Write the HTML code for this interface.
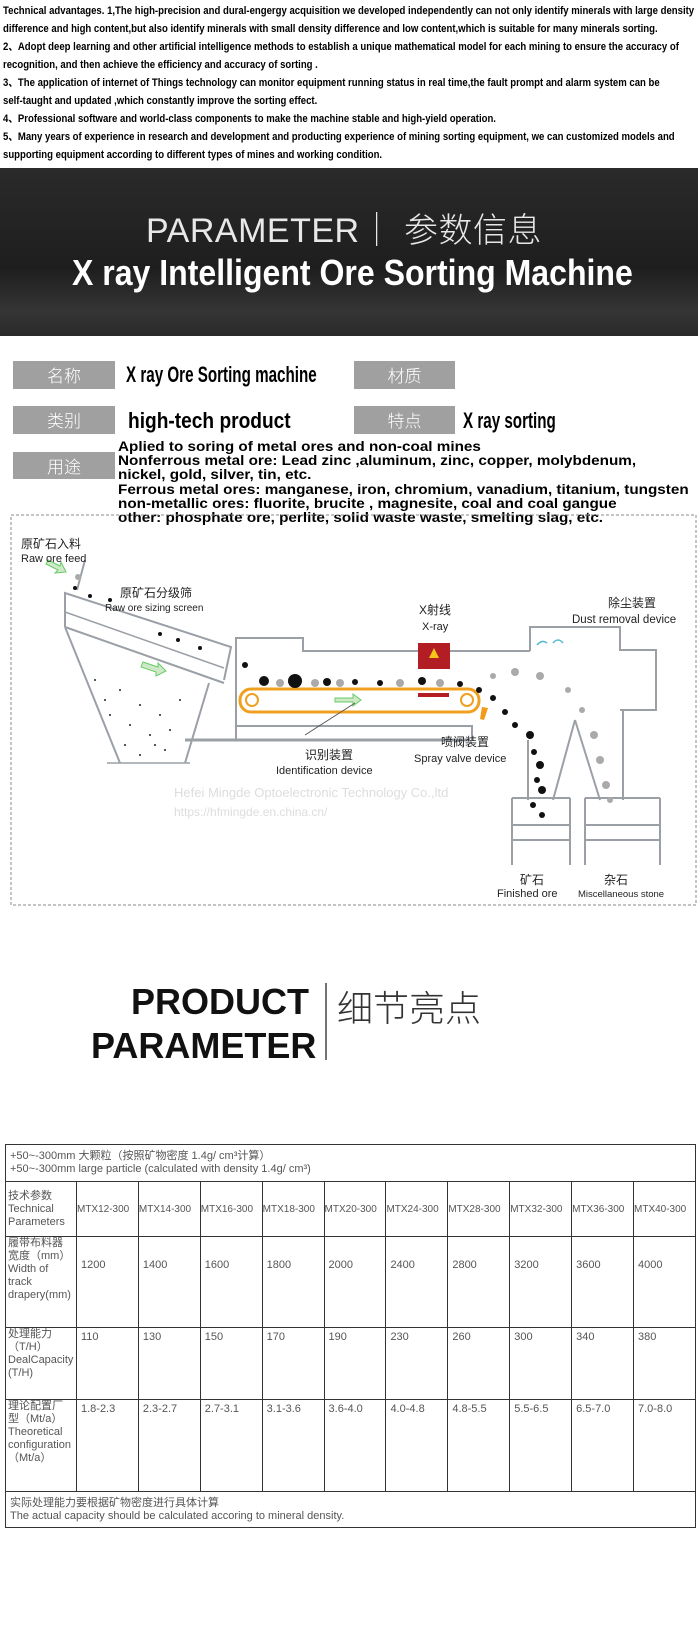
<!DOCTYPE html>
<html><head><meta charset="utf-8">
<style>
*{margin:0;padding:0;box-sizing:border-box}
body{width:698px;height:1641px;background:#fff;position:relative;overflow:hidden;font-family:"Liberation Sans","Noto Sans CJK SC",sans-serif;color:#000}
.abs{position:absolute;white-space:nowrap}
.tl{left:3px;font-size:11px;font-weight:bold;transform:scaleX(0.87);transform-origin:0 0;line-height:12px}
.lab{position:absolute;background:#a0a0a0;color:#fff;font-size:17px;text-align:center;font-family:"Noto Sans CJK SC",sans-serif;font-weight:300}
.cond{font-weight:bold;transform-origin:0 0}
table{border-collapse:collapse}
</style></head><body>
<div class="abs tl" style="top:5px">Technical advantages. 1,The high-precision and dural-engergy acquisition we developed independently can not only identify minerals with large density</div>
<div class="abs tl" style="top:23px">difference and high content,but also identify minerals with small density difference and low content,which is suitable for many minerals sorting.</div>
<div class="abs tl" style="top:41px">2、Adopt deep learning and other artificial intelligence methods to establish a unique mathematical model for each mining to ensure the accuracy of</div>
<div class="abs tl" style="top:59px">recognition, and then achieve the efficiency and accuracy of sorting .</div>
<div class="abs tl" style="top:77px">3、The application of internet of Things technology  can monitor equipment running status in real time,the fault prompt and alarm system can be</div>
<div class="abs tl" style="top:95px">self-taught and updated ,which constantly improve the sorting effect.</div>
<div class="abs tl" style="top:113px">4、Professional software and world-class components to make the machine stable and high-yield operation.</div>
<div class="abs tl" style="top:131px">5、Many years of experience in research and development and producting experience of mining sorting equipment, we can customized models and</div>
<div class="abs tl" style="top:149px">supporting equipment according to different types of mines and working condition.</div>

<div style="position:absolute;left:0;top:168px;width:698px;height:168px;background:linear-gradient(#2a2a2a,#1e1e1e 60%,#353535 85%,#2a2a2a)"></div>
<div class="abs" style="left:146px;top:203px;font-size:34px;color:#e8e8e8;font-weight:300;letter-spacing:0.5px">PARAMETER<span style="font-weight:100">｜</span> <span style="font-family:'Noto Sans CJK SC',sans-serif;font-weight:300">参数信息</span></div>
<div class="abs cond" style="left:72px;top:252px;font-size:36px;color:#fff;transform:scaleX(0.89)">X ray Intelligent Ore Sorting Machine</div>

<div class="lab" style="left:13px;top:361px;width:102px;height:28px;line-height:28px">名称</div>
<div class="lab" style="left:354px;top:361px;width:101px;height:28px;line-height:28px">材质</div>
<div class="lab" style="left:13px;top:406px;width:102px;height:28px;line-height:28px">类别</div>
<div class="lab" style="left:354px;top:406px;width:101px;height:28px;line-height:28px">特点</div>
<div class="lab" style="left:13px;top:452px;width:102px;height:27px;line-height:27px">用途</div>
<div class="abs cond" style="left:126px;top:362px;font-size:22px;transform:scaleX(0.69)">X ray Ore Sorting machine</div>
<div class="abs cond" style="left:128px;top:408px;font-size:22px;transform:scaleX(0.87)">high-tech product</div>
<div class="abs cond" style="left:463px;top:408px;font-size:22px;transform:scaleX(0.69)">X ray sorting</div>
<div class="abs" style="left:118px;top:439px;font-size:14px;font-weight:bold;line-height:14.2px;transform:scaleX(1.09);transform-origin:0 0">Aplied to soring of metal ores and non-coal mines<br>Nonferrous metal ore: Lead zinc ,aluminum, zinc, copper, molybdenum,<br>nickel, gold, silver, tin, etc.<br>Ferrous metal ores: manganese, iron, chromium, vanadium, titanium, tungsten<br>non-metallic ores: fluorite, brucite , magnesite, coal and coal gangue<br>other: phosphate ore, perlite, solid waste waste, smelting slag, etc.</div>

<svg style="position:absolute;left:0;top:0" width="698" height="1641">
<rect x="11" y="515" width="685" height="390" fill="none" stroke="#888" stroke-dasharray="3,2"/>
<g fill="none" stroke="#9aa0a6" stroke-width="2">
<polyline points="65,627 65,593 231,647 224,680"/>
<line x1="65" y1="627" x2="224" y2="683"/>
<line x1="65" y1="612" x2="224" y2="668" stroke-width="1.5"/>
<polyline points="65,627 120,763"/>
<polyline points="209,683 185,763"/>
<line x1="107" y1="763" x2="190" y2="763" stroke-width="1.5"/>
<line x1="77" y1="590" x2="85" y2="560"/>
<line x1="185" y1="740" x2="470" y2="740" stroke-width="3"/>
<polyline points="236,740 236,638 303,638 303,651 530,651"/>
<polyline points="236,726 472,726 472,740"/>
<polyline points="530,651 530,627 620,627 620,650 656,650 656,710 620,710"/>
<line x1="528" y1="740" x2="528" y2="800"/>
<line x1="575" y1="720" x2="553" y2="800"/>
<line x1="575" y1="720" x2="600" y2="800"/>
<polyline points="623,710 623,800"/>
<polyline points="512,798 512,865"/><polyline points="570,798 570,865"/>
<polyline points="585,798 585,865"/><polyline points="660,798 660,865"/>
<line x1="512" y1="798" x2="570" y2="798"/><line x1="585" y1="798" x2="660" y2="798"/>
<line x1="512" y1="840" x2="570" y2="840"/><line x1="585" y1="840" x2="660" y2="840"/>
<line x1="512" y1="825" x2="570" y2="825"/><line x1="585" y1="825" x2="660" y2="825"/>
</g>
<path d="M537 645 q5 -6 10 -2 M553 643 q5 -6 10 0" stroke="#5bc" stroke-width="1.5" fill="none"/>
<rect x="240" y="689" width="239" height="23" rx="11" fill="none" stroke="#f0a020" stroke-width="3"/>
<circle cx="252" cy="700" r="6" fill="none" stroke="#f0a020" stroke-width="2"/>
<circle cx="467" cy="700" r="6" fill="none" stroke="#f0a020" stroke-width="2"/>
<rect x="418" y="643" width="32" height="26" fill="#b31e24"/>
<polygon points="434,648 429,658 439,658" fill="#f5c518"/>
<rect x="418" y="693" width="31" height="4" fill="#b31e24"/>
<polygon points="482,707 488,708 484,720 480,719" fill="#f39a18"/>
<path d="M335 698 h18 v-4 l8 6 -8 6 v-4 h-18z" fill="#cfe8c7" stroke="#6c6" />
<path d="M143 662 l15 5 v-4 l8 8 -10 5 v-4 l-15 -5z" fill="#cfe8c7" stroke="#6c6"/>
<path d="M48 560 l12 6 1 -4 5 10 -11 1 3 -3 -12 -6z" fill="#cfe8c7" stroke="#6c6"/>
<g fill="#111">
<circle cx="264" cy="681" r="5"/><circle cx="295" cy="681" r="7"/><circle cx="327" cy="682" r="4"/><circle cx="422" cy="681" r="4"/>
<circle cx="355" cy="682" r="3"/><circle cx="380" cy="683" r="3"/><circle cx="460" cy="684" r="3"/><circle cx="479" cy="690" r="3"/>
<circle cx="493" cy="698" r="3"/><circle cx="505" cy="712" r="3"/><circle cx="515" cy="725" r="3"/><circle cx="530" cy="735" r="4"/>
<circle cx="534" cy="752" r="3"/><circle cx="540" cy="765" r="4"/><circle cx="537" cy="780" r="3"/><circle cx="542" cy="790" r="4"/>
<circle cx="533" cy="805" r="3"/><circle cx="542" cy="815" r="3"/><circle cx="245" cy="665" r="3"/>
<circle cx="75" cy="588" r="2"/><circle cx="90" cy="596" r="2"/><circle cx="110" cy="600" r="2"/><circle cx="160" cy="634" r="2"/><circle cx="200" cy="648" r="2"/><circle cx="178" cy="640" r="2"/>
</g>
<g fill="#aaa">
<circle cx="280" cy="683" r="4"/><circle cx="315" cy="683" r="4"/><circle cx="340" cy="683" r="4"/><circle cx="400" cy="683" r="4"/><circle cx="440" cy="683" r="4"/>
<circle cx="493" cy="676" r="3"/><circle cx="515" cy="672" r="4"/><circle cx="540" cy="676" r="4"/><circle cx="568" cy="690" r="3"/><circle cx="582" cy="710" r="3"/>
<circle cx="594" cy="735" r="4"/><circle cx="600" cy="760" r="4"/><circle cx="606" cy="785" r="4"/><circle cx="610" cy="800" r="3"/><circle cx="78" cy="577" r="3"/>
</g>
<g fill="#222">
<circle cx="95" cy="680" r="1"/><circle cx="120" cy="690" r="1"/><circle cx="105" cy="700" r="1"/><circle cx="140" cy="705" r="1"/><circle cx="160" cy="715" r="1"/>
<circle cx="130" cy="725" r="1"/><circle cx="150" cy="735" r="1"/><circle cx="170" cy="730" r="1"/><circle cx="125" cy="745" r="1"/><circle cx="165" cy="750" r="1"/>
<circle cx="140" cy="755" r="1"/><circle cx="180" cy="700" r="1"/><circle cx="110" cy="715" r="1"/><circle cx="155" cy="745" r="1"/>
</g>
<g font-family="Liberation Sans,Noto Sans CJK SC,sans-serif" font-size="12" fill="#222">
<text x="21" y="548">原矿石入料</text><text x="21" y="562" font-size="11">Raw ore feed</text>
<text x="120" y="597">原矿石分级筛</text><text x="105" y="611" font-size="10">Raw ore sizing screen</text>
<text x="419" y="614">X射线</text><text x="422" y="630" font-size="11">X-ray</text>
<text x="608" y="607">除尘装置</text><text x="572" y="623" font-size="11.5">Dust removal device</text>
<text x="305" y="759">识别装置</text><text x="276" y="774" font-size="11">Identification device</text>
<text x="441" y="746">喷阀装置</text><text x="414" y="762" font-size="11">Spray valve device</text>
<text x="520" y="884">矿石</text><text x="497" y="897" font-size="11">Finished ore</text>
<text x="604" y="884">杂石</text><text x="578" y="897" font-size="9.5">Miscellaneous stone</text>
<text x="174" y="797" font-size="13" fill="#ddd">Hefei Mingde Optoelectronic Technology Co.,ltd</text>
<text x="174" y="816" font-size="12" fill="#ddd">https://hfmingde.en.china.cn/</text>
</g>
<line x1="305" y1="735" x2="355" y2="703" stroke="#555"/>
<line x1="326" y1="983" x2="326" y2="1060" stroke="#444" stroke-width="1.5"/>
</svg>

<div class="abs" style="left:131px;top:981px;font-size:36px;font-weight:bold;color:#111">PRODUCT</div>
<div class="abs" style="left:91px;top:1025px;font-size:36px;font-weight:bold;color:#111">PARAMETER</div>
<div class="abs" style="left:337px;top:980px;font-size:36px;font-family:'Noto Sans CJK SC',sans-serif;font-weight:300;color:#333">细节亮点</div>

<table style="position:absolute;left:5px;top:1144px;width:691px;font-size:11px;color:#555;font-family:'Liberation Sans','Noto Sans CJK SC',sans-serif;line-height:13px">
<colgroup><col style="width:71px"><col span="10" style="width:62px"></colgroup>
<tr style="height:37px"><td colspan="11" style="border:1px solid #333;padding:1px 4px">+50~-300mm 大颗粒（按照矿物密度 1.4g/ cm³计算）<br>+50~-300mm large particle (calculated with density 1.4g/ cm³)</td></tr>
<tr style="height:55px;font-size:10px">
<td style="border:1px solid #333;padding-left:2px;font-size:11px">技术参数<br>Technical<br>Parameters</td>
<td style="border:1px solid #333">MTX12-300</td><td style="border:1px solid #333">MTX14-300</td><td style="border:1px solid #333">MTX16-300</td><td style="border:1px solid #333">MTX18-300</td><td style="border:1px solid #333">MTX20-300</td><td style="border:1px solid #333">MTX24-300</td><td style="border:1px solid #333">MTX28-300</td><td style="border:1px solid #333">MTX32-300</td><td style="border:1px solid #333">MTX36-300</td><td style="border:1px solid #333">MTX40-300</td></tr>
<tr style="height:91px;vertical-align:top">
<td style="border:1px solid #333;padding-left:2px">履带布料器<br>宽度（mm）<br>Width of<br>track<br>drapery(mm)</td>
<td style="border:1px solid #333;padding:22px 4px 0">1200</td><td style="border:1px solid #333;padding:22px 4px 0">1400</td><td style="border:1px solid #333;padding:22px 4px 0">1600</td><td style="border:1px solid #333;padding:22px 4px 0">1800</td><td style="border:1px solid #333;padding:22px 4px 0">2000</td><td style="border:1px solid #333;padding:22px 4px 0">2400</td><td style="border:1px solid #333;padding:22px 4px 0">2800</td><td style="border:1px solid #333;padding:22px 4px 0">3200</td><td style="border:1px solid #333;padding:22px 4px 0">3600</td><td style="border:1px solid #333;padding:22px 4px 0">4000</td></tr>
<tr style="height:72px;vertical-align:top">
<td style="border:1px solid #333;padding-left:2px">处理能力<br>（T/H）<br>DealCapacity<br>(T/H)</td>
<td style="border:1px solid #333;padding:3px 4px">110</td><td style="border:1px solid #333;padding:3px 4px">130</td><td style="border:1px solid #333;padding:3px 4px">150</td><td style="border:1px solid #333;padding:3px 4px">170</td><td style="border:1px solid #333;padding:3px 4px">190</td><td style="border:1px solid #333;padding:3px 4px">230</td><td style="border:1px solid #333;padding:3px 4px">260</td><td style="border:1px solid #333;padding:3px 4px">300</td><td style="border:1px solid #333;padding:3px 4px">340</td><td style="border:1px solid #333;padding:3px 4px">380</td></tr>
<tr style="height:92px;vertical-align:top">
<td style="border:1px solid #333;padding-left:2px">理论配置厂<br>型（Mt/a）<br>Theoretical<br>configuration<br>（Mt/a）</td>
<td style="border:1px solid #333;padding:3px 4px">1.8-2.3</td><td style="border:1px solid #333;padding:3px 4px">2.3-2.7</td><td style="border:1px solid #333;padding:3px 4px">2.7-3.1</td><td style="border:1px solid #333;padding:3px 4px">3.1-3.6</td><td style="border:1px solid #333;padding:3px 4px">3.6-4.0</td><td style="border:1px solid #333;padding:3px 4px">4.0-4.8</td><td style="border:1px solid #333;padding:3px 4px">4.8-5.5</td><td style="border:1px solid #333;padding:3px 4px">5.5-6.5</td><td style="border:1px solid #333;padding:3px 4px">6.5-7.0</td><td style="border:1px solid #333;padding:3px 4px">7.0-8.0</td></tr>
<tr style="height:36px"><td colspan="11" style="border:1px solid #333;padding:1px 4px">实际处理能力要根据矿物密度进行具体计算<br>The actual capacity should be calculated accoring to mineral density.</td></tr>
</table>
</body></html>
